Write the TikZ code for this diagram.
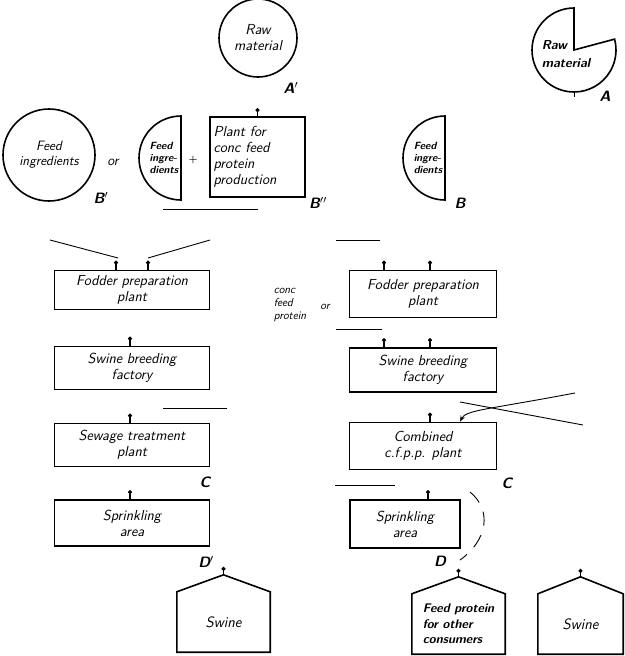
\documentclass[tikz,border=0pt]{standalone}
\usepackage{fontspec}
\usepackage{tikz}
\usetikzlibrary{positioning,calc,arrows.meta}
\tikzset{
  basic/.style  = {draw, line width=1.6pt, font=\sffamily\slshape\fontsize{14.5}{16}\selectfont},
  unit/.style   = {basic, rectangle, align=center, inner sep=2pt},
  source/.style = {basic, circle, align=center, inner sep=1pt},
  house/.style  = {font=\sffamily\slshape\fontsize{15}{17}\selectfont, align=center,
                   minimum width=93pt, minimum height=60pt, inner sep=1pt},
  wall/.style   = {line width=1.6pt, line join=miter},
  tag/.style    = {font=\sffamily\slshape\bfseries\fontsize{15}{17}\selectfont},
  note/.style   = {font=\sffamily\slshape\fontsize{11.5}{13}\selectfont, align=left, inner sep=0pt},
  pin/.style    = {{Circle[length=4pt]}-, line width=1.1pt},
  stroke/.style = {line width=0.9pt}
}

\begin{document}
\begin{tikzpicture}[x=1pt,y=-1pt]
\useasboundingbox (0,0) rectangle (624,656);

% sources
\node[source, minimum size=78pt] (rawAp) at (258,38) {Raw\\material};
\node[tag] at (291,88) {A$'$};
\node[unit, minimum width=95pt, minimum height=80pt, align=left, text width=88pt] (plantBpp) at (257.5,157)
  {Plant for\\conc feed\\protein\\production};
\node[tag] at (318,203) {B$''$};
\draw[pin] ([yshift=8pt]plantBpp.north) -- (plantBpp.north);

\node[source, minimum size=92pt, font=\sffamily\slshape\fontsize{13.5}{15}\selectfont] (feedBp) at (49,155) {Feed\\ingredients};
\node[tag] at (101,198) {B$'$};
\node[note, font=\sffamily\slshape\fontsize{14}{15}\selectfont] (orA) at (113,162) {or};
\node[font=\bfseries] (plusA) at (193,160) {+};

\coordinate (halfL) at (181,158);
\draw[wall] ([yshift=42pt]halfL) arc[start angle=90, end angle=270, radius=42pt] -- cycle;
\node[note, font=\sffamily\slshape\bfseries\fontsize{10.5}{12}\selectfont] (feedhalfL) at (164,158) {Feed\\ingre-\\dients};

\coordinate (halfB) at (445,158);
\draw[wall] ([yshift=42pt]halfB) arc[start angle=90, end angle=270, radius=42pt] -- cycle;
\node[note, font=\sffamily\slshape\bfseries\fontsize{10.5}{12}\selectfont] (feedhalfB) at (428,158) {Feed\\ingre-\\dients};
\node[tag] at (460,203) {B};

\coordinate (rawA) at (574,50);
\draw[wall] (rawA) -- ([yshift=42pt]rawA) arc[start angle=90, end angle=375, radius=42pt] -- cycle;
\node[note, font=\sffamily\slshape\bfseries\fontsize{13}{18}\selectfont] (rawAtext) at (566,54) {Raw\\material};
\draw[stroke] ([yshift=-42pt]rawA) -- ([yshift=-47pt]rawA);
\node[tag] at (605,96) {A};

% bracket strokes
\draw[stroke] (163,209) -- (258,209);
\draw[stroke] (50,240) -- (118,258);
\draw[stroke] (148,258) -- (210,240);
\draw[stroke] (336,240) -- (380,240);
\draw[stroke] (336,329) -- (382,329);
\draw[stroke] (163,408) -- (227,408);
\draw[stroke] (335,485) -- (395,485);

% left chain
\node[unit, minimum width=155pt, minimum height=39pt] (fodL) at (132,290) {Fodder preparation\\plant};
\node[unit, minimum width=155pt, minimum height=43pt] (swiL) at (132,368) {Swine breeding\\factory};
\node[unit, minimum width=155pt, minimum height=43pt] (sewL) at (132,445) {Sewage treatment\\plant};
\node[unit, minimum width=155pt, minimum height=46pt] (sprL) at (132,523) {Sprinkling\\area};
\node[tag] at (205,482) {C};
\node[tag] at (206,562) {D$'$};
\draw[pin] ([xshift=-16pt,yshift=9pt]fodL.north) -- ([xshift=-16pt]fodL.north);
\draw[pin] ([xshift=16pt,yshift=9pt]fodL.north) -- ([xshift=16pt]fodL.north);
\draw[pin] ([xshift=-2pt,yshift=9pt]swiL.north) -- ([xshift=-2pt]swiL.north);
\draw[pin] ([xshift=-2pt,yshift=9pt]sewL.north) -- ([xshift=-2pt]sewL.north);
\draw[pin] ([xshift=-2pt,yshift=9pt]sprL.north) -- ([xshift=-2pt]sprL.north);

\node[house] (swineL) at (223.5,622) {Swine};
\coordinate (swineLtop) at ([yshift=17pt]swineL.north);
\draw[wall] (swineL.south west) -- (swineL.north west) -- (swineLtop) -- (swineL.north east) -- (swineL.south east) -- cycle;
\draw[pin] ([yshift=8pt]swineLtop) -- (swineLtop);

% right chain
\node[note] (conc) at (290,305) {conc\\feed\\protein};
\node[note] (orB) at (325,307) {or};
\node[unit, minimum width=147pt, minimum height=47pt] (fodR) at (423,294) {Fodder preparation\\plant};
\node[unit, minimum width=147pt, minimum height=44pt] (swiR) at (423,370) {Swine breeding\\factory};
\node[unit, minimum width=147pt, minimum height=47pt] (comR) at (423,446) {Combined\\c.f.p.p. plant};
\node[unit, minimum width=110pt, minimum height=48pt] (sprR) at (405,524) {Sprinkling\\area};
\node[tag] at (507,483) {C};
\node[tag] at (440,561) {D};
\draw[pin] ([xshift=-39pt,yshift=9pt]fodR.north) -- ([xshift=-39pt]fodR.north);
\draw[pin] ([xshift=7pt,yshift=9pt]fodR.north) -- ([xshift=7pt]fodR.north);
\draw[pin] ([xshift=-39pt,yshift=9pt]swiR.north) -- ([xshift=-39pt]swiR.north);
\draw[pin] ([xshift=7pt,yshift=9pt]swiR.north) -- ([xshift=7pt]swiR.north);
\draw[pin] ([xshift=7pt,yshift=9pt]comR.north) -- ([xshift=7pt]comR.north);
\draw[pin] ([xshift=23pt,yshift=9pt]sprR.north) -- ([xshift=23pt]sprR.north);

\coordinate (crossA) at (460,402);
\coordinate (crossB) at (583,425);
\coordinate (crossC) at (575,393);
\draw[stroke] (crossA) -- (crossB);
\draw[stroke, -{Stealth[length=6pt]}] (crossC) .. controls (485,410) and (466,410) .. ([xshift=37pt]comR.north);
\draw[stroke, dash pattern=on 14pt off 10pt] (470,492) .. controls (492,510) and (488,540) .. (460,560);

\node[house, font=\sffamily\slshape\bfseries\fontsize{12.5}{15.5}\selectfont, align=left] (fpH) at (458.5,624) {Feed protein\\for other\\consumers};
\coordinate (fpHtop) at ([yshift=17pt]fpH.north);
\draw[wall] (fpH.south west) -- (fpH.north west) -- (fpHtop) -- (fpH.north east) -- (fpH.south east) -- cycle;
\draw[pin] ([yshift=8pt]fpHtop) -- (fpHtop);

\node[house, minimum width=85pt] (swineR) at (580.5,624) {Swine};
\coordinate (swineRtop) at ([yshift=17pt]swineR.north);
\draw[wall] (swineR.south west) -- (swineR.north west) -- (swineRtop) -- (swineR.north east) -- (swineR.south east) -- cycle;
\draw[pin] ([yshift=8pt]swineRtop) -- (swineRtop);
\end{tikzpicture}
\end{document}
